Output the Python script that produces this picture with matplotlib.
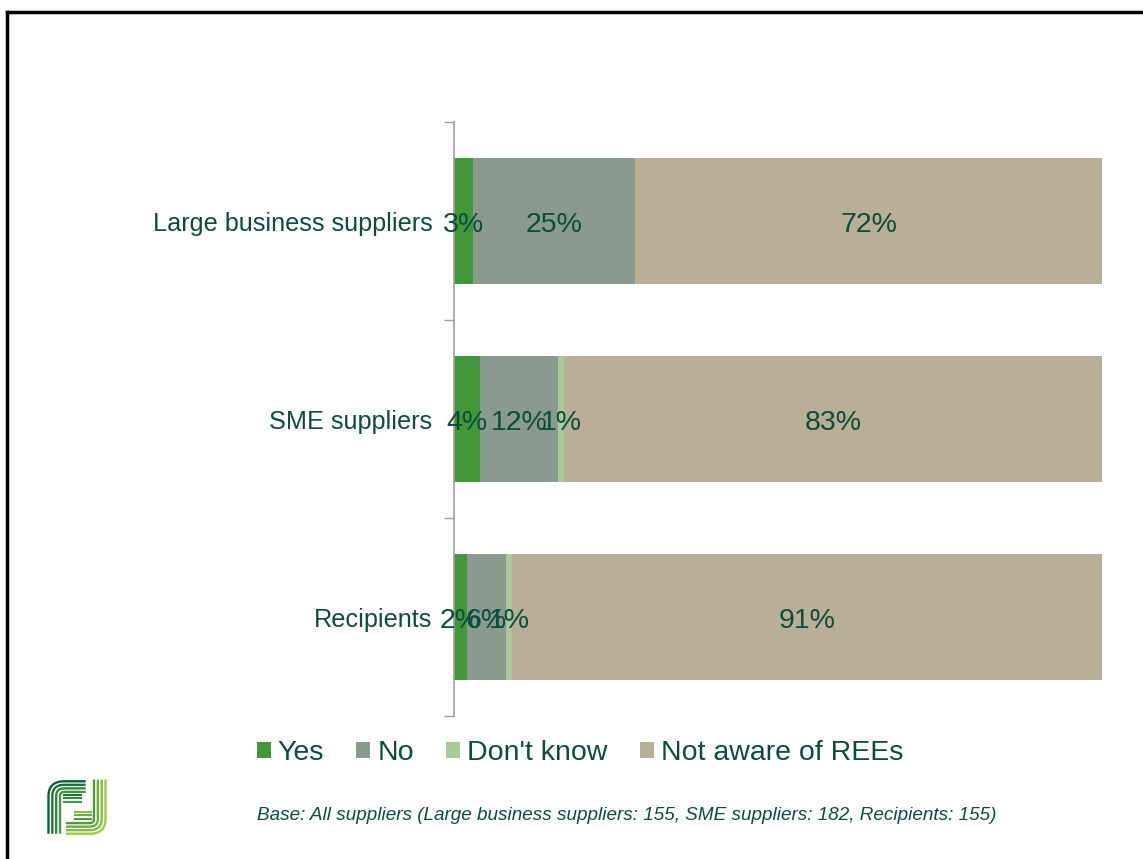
import numpy as np
import matplotlib.pyplot as plt
from matplotlib.lines import Line2D

plt.rcParams['font.family'] = ['Liberation Sans', 'DejaVu Sans']

categories = ['Large business suppliers', 'SME suppliers', 'Recipients']
series = ['Yes', 'No', "Don't know", 'Not aware of REEs']
yes = [3, 4, 2]
no = [25, 12, 6]
dont_know = [0, 1, 1]
not_aware = [72, 83, 91]
colors = ['#43963a', '#8a9a8f', '#a9c99b', '#b8af96']
txt = '#0b4d3a'
footnote = 'Base: All suppliers (Large business suppliers: 155, SME suppliers: 182, Recipients: 155)'

fig = plt.figure(figsize=(11.43, 8.59), dpi=100)
ax = fig.add_axes([454 / 1143, 1 - 716 / 859, 648 / 1143, 594 / 859])

y = np.arange(len(categories))
left = np.zeros(len(categories))
for vals, name, c in zip([yes, no, dont_know, not_aware], series, colors):
    vals = np.array(vals, dtype=float)
    ax.barh(y, vals, left=left, height=0.64, color=c, label=name)
    for yi, l, v in zip(y, left, vals):
        if v > 0:
            ax.text(l + v / 2, yi + 0.02, f'{v:.0f}%', ha='center', va='center',
                    fontsize=20.5, color=txt)
    left += vals

ax.set_xlim(0, 100)
ax.set_ylim(2.5, -0.5)
ax.set_yticks([-0.5, 0.5, 1.5, 2.5])
ax.set_yticklabels([])
ax.set_yticks(y, minor=True)
ax.set_yticklabels(categories, minor=True, fontsize=18.2, color=txt)
ax.tick_params(axis='y', which='major', length=7, color='#a0a0a0', width=1)
ax.tick_params(axis='y', which='minor', length=0, pad=15.5)
ax.xaxis.set_visible(False)
for s in ['top', 'right', 'bottom']:
    ax.spines[s].set_visible(False)
ax.spines['left'].set_color('#a0a0a0')
ax.spines['left'].set_linewidth(1.2)

leg = fig.legend(loc='center', bbox_to_anchor=(580 / 1143, 1 - 753 / 859), ncol=4,
                 frameon=False, fontsize=20.5, handlelength=0.5, handleheight=0.5,
                 handletextpad=0.25, columnspacing=1.12)
for t in leg.get_texts():
    t.set_color(txt)

fig.text(257 / 1143, 1 - 815 / 859, footnote, fontsize=13.6, style='italic',
         color=txt, ha='left', va='center')

# frame lines (top and left)
fig.add_artist(Line2D([7 / 1143, 1], [1 - 12 / 859, 1 - 12 / 859], color='black', lw=2.5))
fig.add_artist(Line2D([7 / 1143, 7 / 1143], [0, 1 - 12 / 859], color='black', lw=2.5))


# logo: interlocking striped "F" and "J"
def corner_path(x0, y0, xc, yc, x1, y1, r):
    # straight from (x0,y0) to corner (xc,yc) rounded with radius r, then to (x1,y1)
    d1 = np.array([xc - x0, yc - y0]); d1 = d1 / np.linalg.norm(d1)
    d2 = np.array([x1 - xc, y1 - yc]); d2 = d2 / np.linalg.norm(d2)
    p1 = np.array([xc, yc]) - d1 * r
    p2 = np.array([xc, yc]) + d2 * r
    t = np.linspace(0, 1, 20)[:, None]
    curve = (1 - t) ** 2 * p1 + 2 * (1 - t) * t * np.array([xc, yc]) + t ** 2 * p2
    pts = np.vstack([[x0, y0], curve, [x1, y1]])
    return pts[:, 0], pts[:, 1]


lg = fig.add_axes([46 / 1143, 1 - 836 / 859, 62 / 1143, 57 / 859])
lg.set_xlim(0, 10)
lg.set_ylim(0, 10)
lg.axis('off')
dark = ['#0e5f36', '#1c733b', '#2f863d', '#45963f']
light = ['#9acb3f', '#82bd3f', '#68ad3e', '#4f9c3e']
for i in range(4):
    o = i * 0.62
    xs, ys = corner_path(0.4 + o, 0.4, 0.4 + o, 9.6 - o, 6.4, 9.6 - o, max(2.6 - o, 0.4))
    lg.plot(xs, ys, color=dark[i], lw=1.7, solid_capstyle='butt')
    xs, ys = corner_path(9.6 - o, 9.9, 9.6 - o, 0.4 + o, 3.2, 0.4 + o, max(2.6 - o, 0.4))
    lg.plot(xs, ys, color=light[i], lw=1.7, solid_capstyle='butt')
for i in range(3):
    yy = 6.0 + i * 0.62
    lg.plot([2.9, 5.6], [yy, yy], color=dark[3 - i], lw=1.5)
    yy2 = 3.0 + i * 0.62
    lg.plot([4.6, 7.3], [yy2, yy2], color=light[3 - i], lw=1.5)

fig.savefig('out.png', dpi=100)
